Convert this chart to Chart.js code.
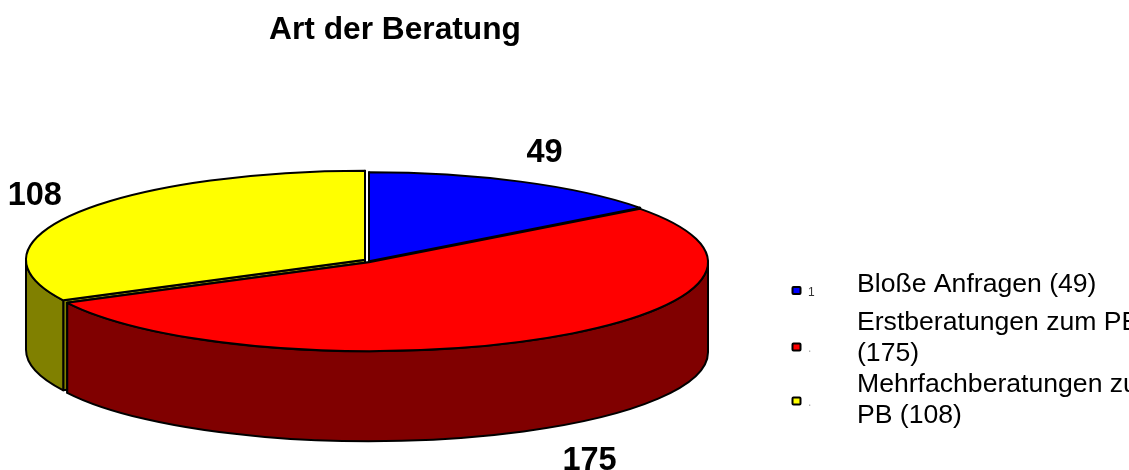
<!DOCTYPE html>
<html>
<head>
<meta charset="utf-8">
<title>Art der Beratung</title>
<script src="https://cdn.jsdelivr.net/npm/chart.js@4/dist/chart.umd.js"></script>
<style>
    html, body { margin: 0; padding: 0; background: #fff; overflow: hidden; }
    canvas { display: block; }
</style>
</head>
<body>
<canvas id="beratungChart" width="1129" height="470"></canvas>
<script>
// Daten
const kategorien = ['Bloße Anfragen (49)', 'Erstberatungen zum PB (175)', 'Mehrfachberatungen zum PB (108)'];
const legendeZeilen = [['Bloße Anfragen (49)'], ['Erstberatungen zum PB', '(175)'], ['Mehrfachberatungen zum', 'PB (108)']];
const legendeSchluessel = ['1', '.', '.'];
const werte = [49, 175, 108];

// Farben
const farben = ['#0000ff', '#ff0000', '#ffff00'];
const seitenFarben = ['#000080', '#800000', '#808000'];

// Aussehen der 3D-Torte
const neigung = 0.2625;
const tiefe = 90;
const versatz = [[1, 0], [1, 1], [-3, -1.5]];
const zeichenFolge = [0, 2, 1];
const wertVersatz = [[25, -29], [42, 124], [-44, -19]];

// Ebene Torte zu einer Ellipse stauchen und Seitenwaende ergaenzen
const tortePlugin = {
    id: 'torte3d',
    afterLayout(chart) {
        // Titel sitzt im Original etwas rechts von der Tortenmitte
        chart.titleBlock.left += 27;
        chart.titleBlock.right += 27;
    },
    beforeDatasetsDraw(chart) {
        const ctx = chart.ctx;
        const arcs = chart.getDatasetMeta(0).data;

        zeichenFolge.forEach(i => {
            const arc = arcs[i];
            const cx = arc.x + versatz[i][0];
            const cy = arc.y + versatz[i][1];
            const rx = arc.outerRadius;
            const ry = rx * neigung;
            const a1 = arc.startAngle;
            const a2 = arc.endAngle;

            ctx.save();
            ctx.lineWidth = 2;
            ctx.lineJoin = 'round';
            ctx.strokeStyle = '#000';
            ctx.fillStyle = seitenFarben[i];

            // Schnittflaechen
            [a1, a2].forEach(a => {
                const px = cx + Math.cos(a) * rx;
                const py = cy + Math.sin(a) * ry;
                ctx.beginPath();
                ctx.moveTo(cx, cy);
                ctx.lineTo(px, py);
                ctx.lineTo(px, py + tiefe);
                ctx.lineTo(cx, cy + tiefe);
                ctx.closePath();
                ctx.fill();
                ctx.stroke();
            });

            // Aussenwand, nur der sichtbare vordere Teil
            const von = Math.max(a1, 0);
            const bis = Math.min(a2, Math.PI);
            if (bis > von) {
                ctx.beginPath();
                ctx.ellipse(cx, cy, rx, ry, 0, von, bis);
                ctx.lineTo(cx + Math.cos(bis) * rx, cy + Math.sin(bis) * ry + tiefe);
                ctx.ellipse(cx, cy + tiefe, rx, ry, 0, bis, von, true);
                ctx.closePath();
                ctx.fill();
                ctx.stroke();
            }

            // Deckel: Kreisbogen von Chart.js, gestaucht
            ctx.save();
            ctx.translate(cx, cy);
            ctx.scale(1, neigung);
            ctx.translate(-arc.x, -arc.y);
            arc.draw(ctx);
            ctx.restore();

            ctx.beginPath();
            ctx.moveTo(cx, cy);
            ctx.ellipse(cx, cy, rx, ry, 0, a1, a2);
            ctx.closePath();
            ctx.stroke();
            ctx.restore();
        });

        // Werte an den Segmenten
        ctx.save();
        ctx.font = 'bold 32.5px "Liberation Sans", Arial, sans-serif';
        ctx.fillStyle = '#000';
        ctx.textAlign = 'center';
        ctx.textBaseline = 'middle';
        arcs.forEach((arc, i) => {
            const mitte = (arc.startAngle + arc.endAngle) / 2;
            const x = arc.x + Math.cos(mitte) * arc.outerRadius + wertVersatz[i][0];
            const y = arc.y + Math.sin(mitte) * arc.outerRadius * neigung + wertVersatz[i][1];
            ctx.fillText(String(werte[i]), x, y);
        });
        ctx.restore();
        return false;
    },
    afterDraw(chart) {
        // Legende
        const ctx = chart.ctx;
        const markerY = [290.5, 347, 401];
        const zeilenY = [[292], [330, 361], [392, 423]];
        ctx.save();
        farben.forEach((farbe, i) => {
            ctx.fillStyle = farbe;
            ctx.strokeStyle = '#000';
            ctx.lineWidth = 2;
            ctx.beginPath();
            ctx.roundRect(792.5, markerY[i] - 3.5, 8, 7, 1);
            ctx.fill();
            ctx.stroke();

            ctx.fillStyle = i === 0 ? '#333' : '#aaa';
            ctx.font = '12px "Liberation Sans", Arial, sans-serif';
            ctx.textBaseline = 'alphabetic';
            ctx.fillText(legendeSchluessel[i], 808, markerY[i] + 5);

            ctx.fillStyle = '#000';
            ctx.font = '26.6px "Liberation Sans", Arial, sans-serif';
            legendeZeilen[i].forEach((zeile, j) => ctx.fillText(zeile, 857, zeilenY[i][j]));
        });
        ctx.restore();
    }
};

new Chart(document.getElementById('beratungChart').getContext('2d'), {
    type: 'pie',
    data: {
        labels: kategorien,
        datasets: [{
            data: werte,
            backgroundColor: farben,
            borderWidth: 0
        }]
    },
    options: {
        responsive: false,
        animation: false,
        events: [],
        radius: 339,
        layout: { padding: { left: 0, right: 393, top: 0, bottom: 0 } },
        plugins: {
            legend: { display: false },
            tooltip: { enabled: false },
            title: {
                display: true,
                fullSize: false,
                text: 'Art der Beratung',
                color: '#000',
                font: { family: '"Liberation Sans", Arial, sans-serif', size: 31.7, weight: 'bold', lineHeight: 1.2 },
                padding: { top: 11, bottom: 3.4 }
            }
        }
    },
    plugins: [tortePlugin]
});
</script>
</body>
</html>
